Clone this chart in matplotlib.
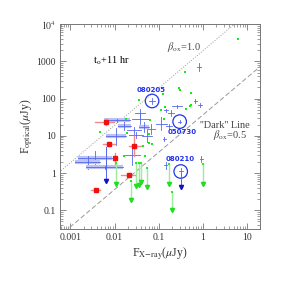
import numpy as np
import matplotlib
matplotlib.use('Agg')
import matplotlib.pyplot as plt
from matplotlib.ticker import FixedLocator, FixedFormatter, LogLocator, NullFormatter

plt.rcParams['font.family'] = ['Liberation Serif', 'DejaVu Serif']
plt.rcParams['mathtext.fontset'] = 'stix'

# green detections (F_x, F_opt) in uJy
green_fx = [6.4, 0.40, 0.29, 0.30, 0.54, 0.126, 0.035, 0.53, 0.52, 0.137, 0.114, 0.42,
            0.135, 0.0186, 0.0046, 0.065, 0.0195, 0.062, 0.062, 0.072, 0.044, 0.049, 0.0167]
green_fo = [3900, 530, 188, 173, 143, 133, 93, 68, 62, 58, 49, 53,
            28, 28, 13, 26, 12, 11, 6.4, 5.9, 5.4, 2.8, 2.9]

# green upper limits: x, top of line, arrow position
glim_fx = [0.0107, 0.0237, 0.031, 0.035, 0.040, 0.055, 0.172, 0.205, 1.0]
glim_top = [1.85, 0.60, 1.85, 1.85, 1.85, 1.36, 1.71, 0.31, 1.71]
glim_bot = [0.50, 0.19, 0.44, 0.49, 0.57, 0.42, 0.52, 0.10, 0.52]

# red points with ranges
red_fx = [0.0063, 0.0075, 0.0101, 0.028, 0.0214, 0.0038]
red_fo = [23.5, 6.0, 2.6, 5.3, 0.9, 0.34]
red_fx_lo = [0.0037, 0.0055, 0.0096, 0.021, 0.014, 0.0029]
red_fx_hi = [0.0096, 0.0104, 0.0106, 0.039, 0.029, 0.0048]
red_fo_lo = [19, 5.4, 1.8, 2.8, 0.82, 0.31]
red_fo_hi = [29, 6.7, 3.4, 9.7, 0.98, 0.37]

# blue crosses
blue_fx = [0.83, 0.68, 0.855, 0.071, 0.262, 0.15, 0.037, 0.19, 0.116, 0.17, 0.30, 0.135,
           0.0386, 0.0167, 0.046, 0.0685, 0.0272, 0.0547, 0.0308, 0.011, 0.0114, 0.025,
           0.0037, 0.00246, 0.006, 0.145, 0.93, 0.317]
blue_fo = [703, 88, 68, 86, 62, 48, 41, 41, 21, 18, 24, 8.2,
           28, 18.7, 17, 15.5, 14, 10, 10.7, 9.7, 26, 3.0,
           2.6, 2.0, 1.42, 1.6, 2.4, 1.1]
blue_fx_lo = [0.75, 0.62, 0.77, 0.059, 0.20, 0.135, 0.029, 0.165, 0.085, 0.147, 0.275, 0.124,
              0.025, 0.0118, 0.035, 0.058, 0.019, 0.042, 0.021, 0.0065, 0.0057, 0.017,
              0.0015, 0.0013, 0.0023, 0.135, 0.85, 0.29]
blue_fx_hi = [0.92, 0.74, 0.95, 0.084, 0.34, 0.167, 0.048, 0.22, 0.157, 0.196, 0.33, 0.147,
              0.06, 0.024, 0.06, 0.081, 0.039, 0.071, 0.045, 0.0186, 0.023, 0.037,
              0.0088, 0.0048, 0.0157, 0.156, 1.02, 0.35]
blue_fo_lo = [550, 78, 61, 73, 57, 43, 32, 35, 14, 15, 22, 7.4,
              21, 14, 12.6, 11.4, 11.4, 6.7, 8.6, 5.8, 24, 1.6,
              1.7, 1.3, 1.3, 1.3, 2.0, 0.9]
blue_fo_hi = [900, 99, 75, 101, 67, 54, 52, 48, 32, 21, 27, 9.1,
              38, 25, 23, 21, 17, 15, 13, 16, 28, 5.5,
              3.9, 2.9, 1.55, 1.95, 2.9, 1.35]
blue_wide = [13, 14, 19, 20, 22, 23, 24]

# blue upper limits
blim_fx = [0.0063, 0.317]
blim_top = [5.0, 1.0]
blim_bot = [0.6, 0.43]

# circled bursts
circ_fx = [0.071, 0.30, 0.317]
circ_fo = [86, 24, 1.1]
circ_names = ['080205', '050730', '080210']
name_fx = [0.068, 0.34, 0.31]
name_fo = [165, 12.5, 2.45]

fig = plt.figure(figsize=(2.83, 2.83), dpi=100)
ax = fig.add_axes([0.212, 0.19, 0.707, 0.725])

xl = np.array([3e-4, 30])
ax.plot(xl, 1900 * xl, ':', color='#999999', lw=0.7)
ax.plot(xl, 36 * xl, color='#999999', lw=0.7, dashes=(5, 2.5))

blue = '#5566ee'
lblue = '#bcc3f2'
for i in range(len(blue_fx)):
    if i in blue_wide:
        ax.plot([blue_fx_lo[i], blue_fx_hi[i]], [blue_fo[i], blue_fo[i]], color=lblue, lw=3, solid_capstyle='butt')
    ax.plot([blue_fx_lo[i], blue_fx_hi[i]], [blue_fo[i], blue_fo[i]], color=blue, lw=0.6)
    ax.plot([blue_fx[i], blue_fx[i]], [blue_fo_lo[i], blue_fo_hi[i]], color=blue, lw=0.6)
for i in range(len(blim_fx)):
    ax.plot([blim_fx[i], blim_fx[i]], [blim_top[i], blim_bot[i]], color=blue, lw=0.7)
    ax.plot(blim_fx[i], blim_bot[i], 'v', color='#1111cc', ms=3)

for i in range(len(red_fx)):
    ax.plot([red_fx_lo[i], red_fx_hi[i]], [red_fo[i], red_fo[i]], color='#f28a8a', lw=1.0)
    ax.plot([red_fx[i], red_fx[i]], [red_fo_lo[i], red_fo_hi[i]], color='#f28a8a', lw=1.0)
ax.plot(red_fx, red_fo, 's', color='#ee1111', ms=2.6, mec='#ee1111')

for i in range(len(glim_fx)):
    ax.plot([glim_fx[i], glim_fx[i]], [glim_top[i], glim_bot[i]], color='#99ee99', lw=1.0)
    ax.plot(glim_fx[i], glim_top[i], 's', color='#22ee22', ms=1.8, mew=0)
ax.plot(glim_fx, glim_bot, 'v', color='#22dd22', ms=3)
ax.plot(green_fx, green_fo, 's', color='#11ee11', ms=2.0, mew=0)

ax.scatter(circ_fx, circ_fo, s=95, facecolors='none', edgecolors='#2233ee', linewidths=0.9)
for n, x, y in zip(circ_names, name_fx, name_fo):
    ax.text(x, y, n, color='#2233ee', fontsize=5, fontweight='bold', family='DejaVu Sans',
            ha='center', va='center')

ax.text(0.165, 0.82, r'$\mathrm{t_o}$+11 hr', transform=ax.transAxes, fontsize=7.5, va='center')
ax.text(0.535, 0.89, r'$\beta_{\rm ox}$=1.0', transform=ax.transAxes, fontsize=7.5, va='center', color='#444444')
ax.text(0.70, 0.508, "''Dark'' Line", transform=ax.transAxes, fontsize=7.5, va='center', color='#444444')
ax.text(0.765, 0.459, r'$\beta_{\rm ox}$=0.5', transform=ax.transAxes, fontsize=7.5, va='center', color='#444444')

ax.set_xscale('log')
ax.set_yscale('log')
ax.set_xlim(5.8e-4, 20)
ax.set_ylim(0.031, 1e4)

ax.xaxis.set_major_locator(FixedLocator([0.001, 0.01, 0.1, 1, 10]))
ax.xaxis.set_major_formatter(FixedFormatter(['0.001', '0.01', '0.1', '1', '10']))
ax.yaxis.set_major_locator(FixedLocator([0.1, 1, 10, 100, 1000, 1e4]))
ax.yaxis.set_major_formatter(FixedFormatter(['0.1', '1', '10', '100', '1000', r'$10^4$']))
ax.xaxis.set_minor_locator(LogLocator(subs=np.arange(2, 10)))
ax.yaxis.set_minor_locator(LogLocator(subs=np.arange(2, 10)))
ax.xaxis.set_minor_formatter(NullFormatter())
ax.yaxis.set_minor_formatter(NullFormatter())
ax.tick_params(which='both', direction='in', top=True, right=True, color='#777777', labelsize=7, pad=3,
               labelcolor='#333333')
ax.tick_params(which='major', length=4, width=0.6)
ax.tick_params(which='minor', length=2, width=0.5)
for s in ax.spines.values():
    s.set_color('#777777')
    s.set_linewidth(0.7)

ax.set_xlabel(r'F$_{\rm X\!-\!ray}$($\mu$Jy)', fontsize=8.5, labelpad=2, color='#333333')
ax.set_ylabel(r'F$_{\rm optical}$($\mu$Jy)', fontsize=8.5, labelpad=1, color='#333333')

fig.savefig('out.png', dpi=100)
